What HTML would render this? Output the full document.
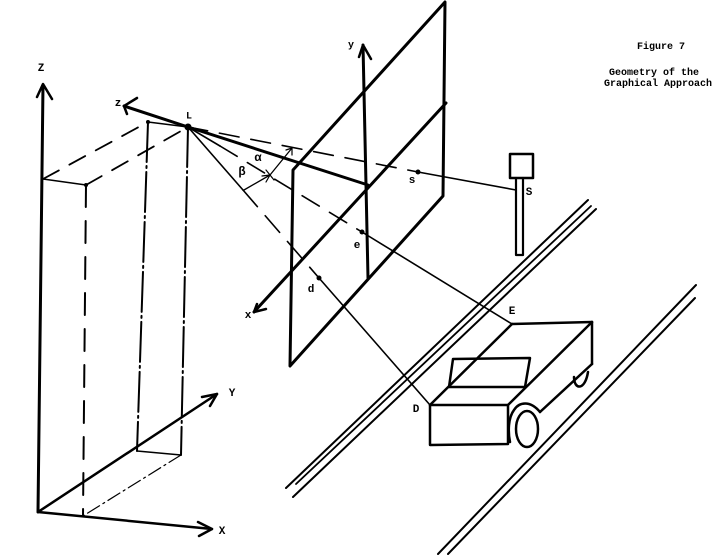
<!DOCTYPE html>
<html><head><meta charset="utf-8"><style>
html,body{margin:0;padding:0;background:#fff;}
svg{display:block;}
text{font-family:"Liberation Mono",monospace;font-weight:bold;fill:#000;}
</style></head><body>
<svg width="722" height="558" viewBox="0 0 722 558" xmlns="http://www.w3.org/2000/svg">
<g stroke="#000" fill="none" stroke-linecap="round" stroke-linejoin="round">
<!-- World axes -->
<line x1="38" y1="512" x2="43" y2="85" stroke-width="3"/>
<polyline points="37,97 43,84 52,99" stroke-width="2.5"/>
<line x1="38" y1="512" x2="212" y2="529" stroke-width="2.5"/>
<polyline points="198,522 212,529 199,536" stroke-width="2.5"/>
<line x1="38" y1="512" x2="217" y2="394" stroke-width="2.5"/>
<polyline points="202,397 217,394 210,406" stroke-width="2.5"/>

<!-- Building box -->
<line x1="43" y1="179" x2="148" y2="122" stroke-width="1.8" stroke-dasharray="18,12"/>
<line x1="86" y1="185" x2="188" y2="127" stroke-width="1.8" stroke-dasharray="18,12"/>
<line x1="43" y1="179" x2="86" y2="185" stroke-width="1.5"/>
<line x1="148" y1="122" x2="188" y2="127" stroke-width="1.5"/>
<line x1="86" y1="185" x2="83" y2="516" stroke-width="2" stroke-dasharray="22,14"/>
<line x1="148" y1="122" x2="137" y2="451" stroke-width="2" stroke-dasharray="40,4,2,4"/>
<line x1="188" y1="127" x2="181" y2="455" stroke-width="2" stroke-dasharray="40,4,2,4"/>
<line x1="137" y1="451" x2="181" y2="455" stroke-width="1.5"/>
<line x1="181" y1="455" x2="83" y2="516" stroke-width="1.2" stroke-dasharray="14,4,2,4"/>

<!-- Camera z axis -->
<line x1="188" y1="127" x2="124" y2="106" stroke-width="3"/>
<polyline points="137,98 124,106 127,114" stroke-width="2.5"/>
<line x1="188" y1="127" x2="368" y2="185" stroke-width="3"/>

<!-- Image plane -->
<polygon points="293,170 445,2 443,196 290,366" stroke-width="3"/>
<line x1="446" y1="103" x2="254" y2="312" stroke-width="3"/>
<polyline points="257,304 254,312 266,309" stroke-width="2.5"/>
<line x1="368" y1="278" x2="363" y2="45" stroke-width="3"/>
<polyline points="359,57 363,45 371,59" stroke-width="2.5"/>

<!-- Rays from L -->
<line x1="188" y1="127" x2="418" y2="172" stroke-width="1.6" stroke-dasharray="20,12"/>
<line x1="188" y1="127" x2="220" y2="146" stroke-width="1.6"/>
<line x1="220" y1="146" x2="362" y2="232" stroke-width="1.6" stroke-dasharray="20,12"/>
<line x1="188" y1="127" x2="243" y2="190" stroke-width="1.6"/>
<line x1="243" y1="190" x2="319" y2="278" stroke-width="1.6" stroke-dasharray="22,12"/>

<!-- angle dimension -->
<polyline points="244,190 270,175 292,148" stroke-width="1.3"/>
<polyline points="262,176 270,175 266,182" stroke-width="1.2"/>
<polyline points="286,150 292,148 292,155" stroke-width="1.2"/>
<line x1="266" y1="170" x2="274" y2="180" stroke-width="1.2"/>

<!-- Projection lines to objects -->
<line x1="418" y1="172" x2="516" y2="190" stroke-width="1.6"/>
<line x1="362" y1="232" x2="512" y2="324" stroke-width="1.6"/>
<line x1="319" y1="278" x2="430" y2="405" stroke-width="1.6"/>

<!-- Sign -->
<rect x="510" y="154" width="23" height="24" stroke-width="2.5"/>
<path d="M516,178 L516,255 L523,255 L523,178" stroke-width="2.2"/>

<!-- Road lines left -->
<line x1="588" y1="200" x2="286" y2="488" stroke-width="2"/>
<line x1="591" y1="206" x2="296" y2="484" stroke-width="1.8"/>
<line x1="596" y1="209" x2="293" y2="497" stroke-width="2"/>
<!-- Road lines right -->
<line x1="696" y1="285" x2="438" y2="554" stroke-width="2"/>
<line x1="695" y1="298" x2="448" y2="554" stroke-width="2"/>

<!-- Car -->
<g stroke-width="2.5">
<polygon points="430,405 508,405 508,444 430,445"/>
<line x1="430" y1="405" x2="512" y2="324"/>
<line x1="508" y1="405" x2="592" y2="322"/>
<line x1="512" y1="324" x2="592" y2="322"/>
<line x1="592" y1="322" x2="592" y2="364"/>
<line x1="592" y1="364" x2="540" y2="412"/>
<polygon points="453,359 530,358 525,387 449,387"/>
<path d="M510,442 C508,432 508,418 514,410 C519,402 530,400 540,412"/>
<ellipse cx="527" cy="429" rx="11" ry="18"/>
<path d="M574,377 C574,390 585,391 588,372"/>
</g>
</g>

<!-- dots -->
<g fill="#000">
<circle cx="188" cy="127" r="3.5"/>
<circle cx="418" cy="172" r="2.5"/>
<circle cx="362" cy="232" r="2.5"/>
<circle cx="319" cy="278" r="2.5"/>
<circle cx="86" cy="185" r="2"/>
<circle cx="148" cy="122" r="2"/>
</g>

<!-- labels -->
<g font-size="11" text-anchor="middle" dominant-baseline="central">
<text x="41" y="69">Z</text>
<text x="118" y="104">z</text>
<text x="189" y="117" font-size="10">L</text>
<text x="351" y="46" font-size="10">y</text>
<text x="248" y="316">x</text>
<text x="222" y="532">X</text>
<text x="232" y="394">Y</text>
<text x="412" y="181">s</text>
<text x="529" y="193">S</text>
<text x="357" y="246">e</text>
<text x="311" y="290">d</text>
<text x="512" y="312" font-family="Liberation Serif">E</text>
<text x="416" y="410" font-family="Liberation Serif">D</text>
<text x="258" y="158" font-family="Liberation Serif" font-weight="normal" font-size="12">α</text>
<text x="242" y="172" font-family="Liberation Serif" font-weight="normal" font-size="12">β</text>
</g>
<g font-size="10">
<text x="637" y="49">Figure 7</text>
<text x="609" y="75">Geometry of the</text>
<text x="604" y="86">Graphical Approach</text>
</g>
</svg>
</body></html>
